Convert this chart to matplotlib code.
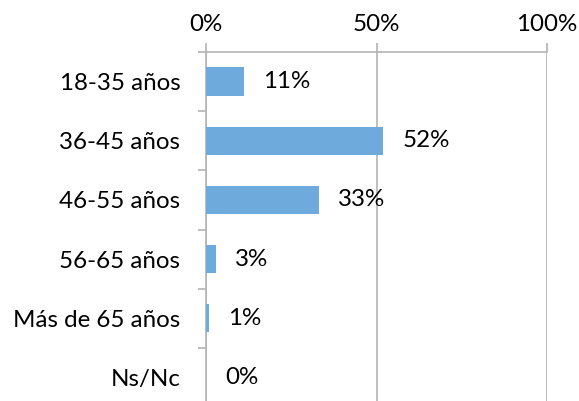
import matplotlib
matplotlib.use("Agg")
import matplotlib.pyplot as plt
import numpy as np

categories = ["18-35 años", "36-45 años", "46-55 años", "56-65 años", "Más de 65 años", "Ns/Nc"]
values = [11, 52, 33, 3, 1, 0]
x_ticks = [0, 50, 100]
x_tick_labels = ["0%", "50%", "100%"]

plt.rcParams['font.family'] = ['Lato', 'DejaVu Sans']

W, H = 579, 401
fig = plt.figure(figsize=(W / 100, H / 100), dpi=100)
left, right, top, bottom_px = 206, 547, 52, 407
ax = fig.add_axes([left / W, 1 - bottom_px / H, (right - left) / W, (bottom_px - top) / H])

grid_c = '#b3b3b3'
bar_c = '#6FAADC'
fs = 17.4

y = np.arange(len(categories))
ax.barh(y, values, height=0.48, color=bar_c, zorder=3)
ax.set_ylim(len(categories) - 0.5, -0.5)
ax.set_xlim(0, 100)

for yi, v in zip(y, values):
    ax.annotate(f"{v}%", xy=(v, yi), xytext=(13.7, 0), textcoords='offset points',
                ha='left', va='center', fontsize=fs, color='black', zorder=4)

ax.xaxis.tick_top()
ax.set_xticks(x_ticks)
ax.set_xticklabels(x_tick_labels, fontsize=fs)
ax.tick_params(axis='x', which='major', direction='out', length=6.5, width=1.2,
               color=grid_c, pad=6)

ax.set_yticks(y)
ax.set_yticklabels(categories, fontsize=fs)
ax.tick_params(axis='y', which='major', length=0, pad=18.5)
ax.set_yticks(np.arange(-0.5, len(categories) + 0.5, 1), minor=True)
ax.tick_params(axis='y', which='minor', direction='out', length=5.8, width=1.2, color=grid_c)

ax.grid(axis='x', color=grid_c, linewidth=1.2, zorder=0)
for s in ['right', 'bottom']:
    ax.spines[s].set_visible(False)
for s in ['top', 'left']:
    ax.spines[s].set_color(grid_c)
    ax.spines[s].set_linewidth(1.2)

fig.savefig("out.png", dpi=100)
